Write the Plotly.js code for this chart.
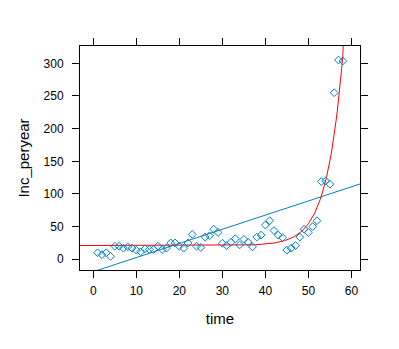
<!DOCTYPE html>
<html>
<head>
<meta charset="utf-8">
<script src="https://cdn.plot.ly/plotly-3.0.1.min.js"></script>
<style>
  body { margin: 0; background: #fff; }
  #myPlot { width: 399px; height: 349px; }
</style>
</head>
<body>
<div id="myPlot"></div>
<script>
// observed yearly incidence
const time = [];
for (let t = 1; t <= 58; t++) time.push(t);
const incPerYear = [
  10, 7, 10, 4.5, 20, 20, 17, 19, 17, 14,
  11.5, 16, 15, 15, 20, 15, 17, 25, 25, 20,
  17, 25, 38, 20, 18, 34, 36, 46, 41, 24.5,
  21, 26, 31.5, 22, 30.5, 26, 19, 34, 37, 52.5,
  59, 44, 37, 33, 14, 17, 21, 34, 46, 41,
  50, 59, 119, 120, 115, 255, 305, 303.5
];

// fitted models
const linIntercept = -19.0;
const linSlope = 2.166;
const expBase = 21;
const expScale = 4.6e-5;
const expRate = 0.27;

const xTicks = [0, 10, 20, 30, 40, 50, 60];
const yTicks = [0, 50, 100, 150, 200, 250, 300];

const blue = '#0080C6';

function fitLines() {
  const xs = [];
  for (let x = -4; x <= 63; x += 0.25) xs.push(x);
  const lin = xs.map(x => linIntercept + linSlope * x);
  const ex = xs.map(x => expBase + expScale * Math.exp(expRate * x));
  return {xs, lin, ex};
}

function drawPlot() {
  const f = fitLines();
  const points = {
    x: time,
    y: incPerYear,
    type: 'scatter',
    mode: 'markers',
    marker: {symbol: 'diamond-open', size: 6, color: blue, line: {width: 1, color: blue}},
    cliponaxis: true
  };
  const linTrace = {
    x: f.xs, y: f.lin,
    type: 'scatter', mode: 'lines',
    line: {color: blue, width: 1}
  };
  const expTrace = {
    x: f.xs, y: f.ex,
    type: 'scatter', mode: 'lines',
    line: {color: '#FF0000', width: 1}
  };
  const axisBase = {
    showgrid: false,
    zeroline: false,
    showline: true,
    linecolor: '#000',
    linewidth: 1,
    mirror: 'allticks',
    ticks: 'outside',
    ticklen: 7,
    tickwidth: 1,
    tickcolor: '#000',
    tickfont: {family: 'Liberation Sans, Arial, sans-serif', size: 12, color: '#000'},
    automargin: false
  };
  const layout = {
    width: 399,
    height: 349,
    margin: {l: 80, r: 39, t: 46, b: 79},
    paper_bgcolor: '#fff',
    plot_bgcolor: '#fff',
    showlegend: false,
    xaxis: Object.assign({}, axisBase, {
      range: [-3.1, 62.0],
      tickvals: xTicks,
      ticktext: xTicks.map(String),
      ticklabelstandoff: 3,
      title: {text: 'time', font: {family: 'Liberation Sans, Arial, sans-serif', size: 15, color: '#000'}, standoff: 16}
    }),
    yaxis: Object.assign({}, axisBase, {
      range: [-16.4, 326.5],
      tickvals: yTicks,
      ticktext: yTicks.map(String),
      ticklabelstandoff: 6,
      title: {text: 'Inc_peryear', font: {family: 'Liberation Sans, Arial, sans-serif', size: 15, color: '#000'}, standoff: 10}
    })
  };
  Plotly.newPlot('myPlot', [linTrace, expTrace, points], layout, {staticPlot: true, displayModeBar: false});
}

drawPlot();
</script>
</body>
</html>
